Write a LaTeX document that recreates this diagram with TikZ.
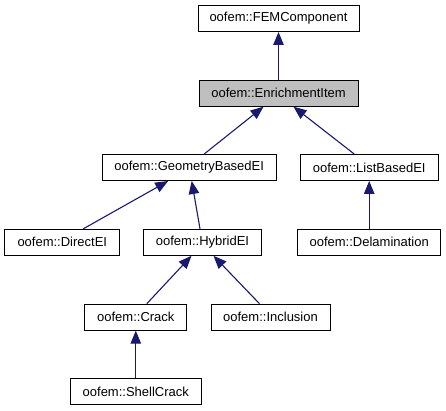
\documentclass[tikz,border=0pt]{standalone}
\usepackage{fontspec}
\setmainfont{Liberation Sans}
\usetikzlibrary{arrows.meta}
\definecolor{edgeblue}{HTML}{191970}
\definecolor{hlgray}{HTML}{BFBFBF}
\begin{document}
\begin{tikzpicture}[x=1pt,y=-1pt,
  cls/.style={draw=black,line width=1pt,fill=white,rectangle,inner sep=0pt,minimum height=26pt,font=\fontsize{13}{15}\selectfont},
  inh/.style={draw=edgeblue,line width=1.1pt,{Triangle[length=13pt,width=10.5pt,fill=edgeblue]}-}]
\useasboundingbox (0,0) rectangle (446,411);
\node[cls,minimum width=161pt] (fem) at (278.5,18.5) {oofem::FEMComponent};
\node[cls,minimum width=159pt,fill=hlgray] (enr) at (278.5,93.2) {oofem::EnrichmentItem};
\node[cls,minimum width=174pt] (geo) at (189.2,167.5) {oofem::GeometryBasedEI};
\node[cls,minimum width=138pt] (lst) at (369.2,167.5) {oofem::ListBasedEI};
\node[cls,minimum width=115pt] (dir) at (62.3,242.3) {oofem::DirectEI};
\node[cls,minimum width=118pt] (hyb) at (202.5,242.3) {oofem::HybridEI};
\node[cls,minimum width=143pt] (del) at (369.2,242.3) {oofem::Delamination};
\node[cls,minimum width=102pt] (crk) at (135.8,317.2) {oofem::Crack};
\node[cls,minimum width=119pt] (inc) at (270.5,317.2) {oofem::Inclusion};
\node[cls,minimum width=131pt] (shc) at (135.8,391.8) {oofem::ShellCrack};
\draw[inh] (fem.south) -- (enr.north);
\draw[inh] ([xshift=-15pt]enr.south) -- ([xshift=15pt]geo.north);
\draw[inh] ([xshift=15pt]enr.south) -- ([xshift=-15pt]lst.north);
\draw[inh] ([xshift=-21pt]geo.south) -- ([xshift=21pt]dir.north);
\draw[inh] ([xshift=2.5pt]geo.south) -- ([xshift=-2.5pt]hyb.north);
\draw[inh] (lst.south) -- (del.north);
\draw[inh] ([xshift=-11pt]hyb.south) -- ([xshift=11pt]crk.north);
\draw[inh] ([xshift=11pt]hyb.south) -- ([xshift=-11pt]inc.north);
\draw[inh] (crk.south) -- (shc.north);
\end{tikzpicture}
\end{document}
